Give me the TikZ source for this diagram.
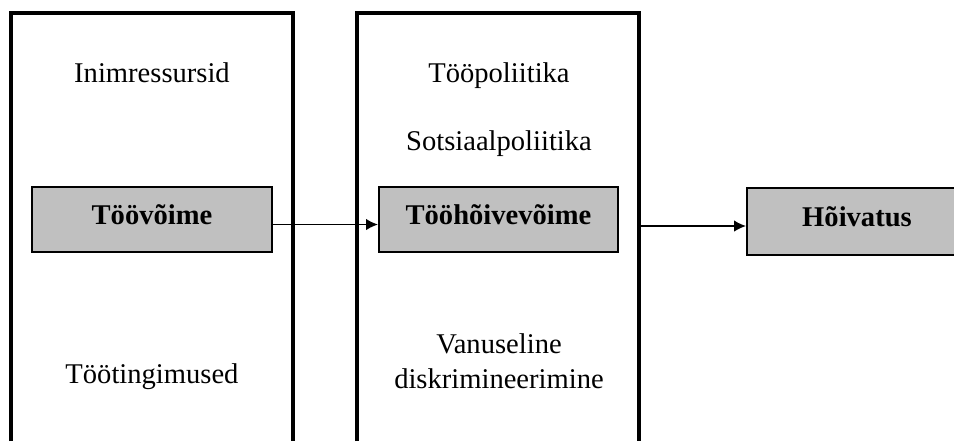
\documentclass[tikz,border=0pt]{standalone}
\usepackage{fontspec}
\setmainfont{Liberation Serif}
\usetikzlibrary{arrows.meta}
\definecolor{boxgrey}{RGB}{192,192,192}

\begin{document}
\begin{tikzpicture}[x=0.42pt,y=-0.42pt,
  frame/.style={line width=1.3pt},
  greybox/.style={draw,line width=0.85pt,fill=boxgrey,inner sep=0pt,
    font=\fontsize{12pt}{14pt}\selectfont\bfseries,
    text height=7pt,text depth=3.2pt,minimum height=27.3pt},
  txt/.style={anchor=base,inner sep=0pt,align=center,
    font=\fontsize{12pt}{14.3pt}\selectfont},
  arr/.style={line width=0.6pt,-{Latex[length=5pt,width=4.8pt]}}]
\clip (0,0) rectangle (954,441);
\draw[frame] (11,441)--(11,13)--(293,13)--(293,441);
\draw[frame] (357,441)--(357,13)--(639,13)--(639,441);
\node[txt] (inim) at (152,82) {Inimressursid};
\node[txt] (tingimus) at (152,383) {Töötingimused};
\node[txt] (toopol) at (499,82) {Tööpoliitika};
\node[txt] (sotspol) at (499,150) {Sotsiaalpoliitika};
\node[txt] (vanus) at (499,388) {Vanuseline\\diskrimineerimine};
\node[greybox,minimum width=100.8pt] (toovoime) at (152,219.5) {Töövõime};
\node[greybox,minimum width=100.4pt] (toohoive) at (498.5,219.5) {Tööhõivevõime};
\node[greybox,minimum width=92.4pt,minimum height=28.1pt] (hoivatus) at (857,221.5) {Hõivatus};
\coordinate (valja) at (639,226);
\draw[arr] ([yshift=-2.1pt]toovoime.east)--([yshift=-2.1pt]toohoive.west);
\draw[arr] (valja)--(hoivatus.west |- valja);
\end{tikzpicture}
\end{document}
